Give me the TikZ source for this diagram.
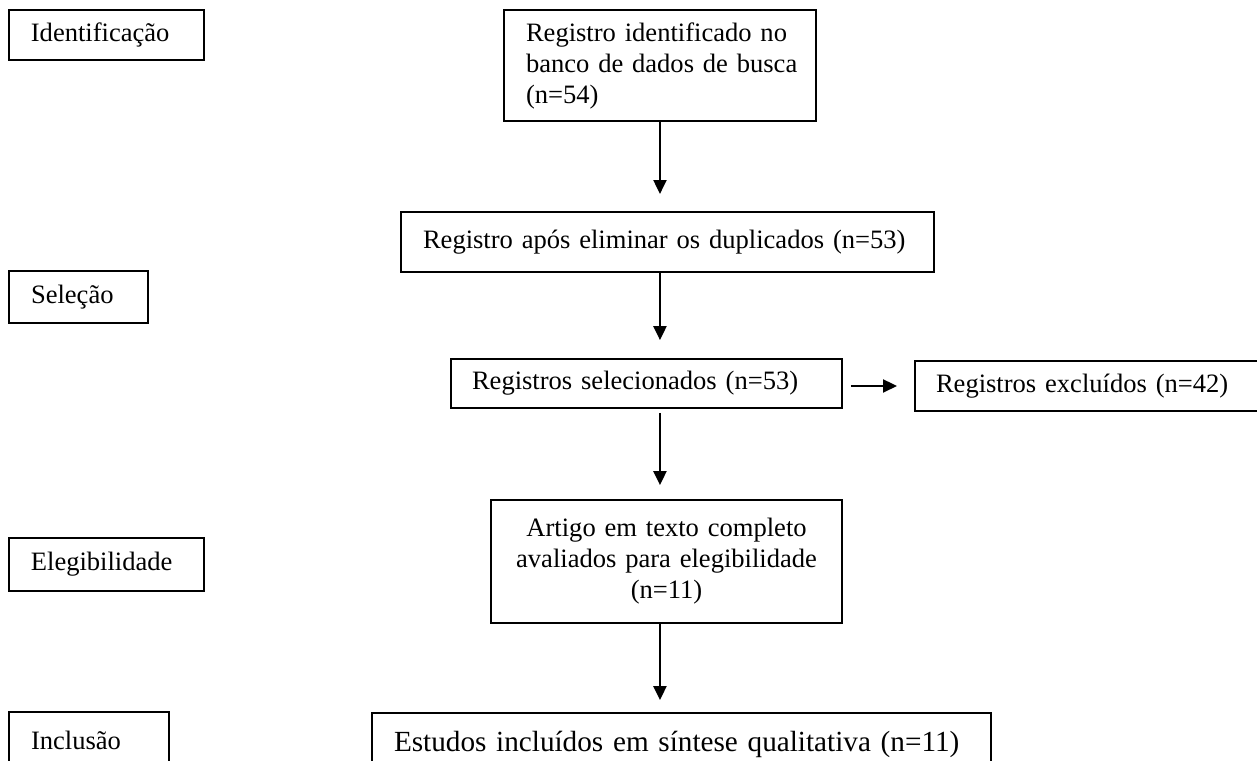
\documentclass[tikz,border=0pt]{standalone}
\usepackage{fontspec}
\setmainfont{Liberation Serif}
\usetikzlibrary{arrows.meta}
\tikzset{
	caixa/.style={draw, line width=0.9pt, anchor=north west, inner xsep=9.9pt, align=left, font=\fontsize{12pt}{14pt}\selectfont},
	etapa/.style={caixa},
	seta/.style={-{Triangle[length=6.3pt,width=5.9pt]}, line width=0.9pt}
}

\begin{document}
\begin{tikzpicture}[x=0.452pt, y=-0.452pt]
			%%%%% START %%%%%
			\useasboundingbox (0, 0) rectangle (1257, 761);
			\clip (0, 0) rectangle (1257, 761);
			
			% etapas
			\node[etapa, minimum width=88.1pt, minimum height=22.6pt, text width=68.3pt] (ident) at (8, 9) {Identificação};
			\node[etapa, minimum width=62.8pt, minimum height=23.5pt, text width=42.9pt] (selecao) at (8, 270) {Seleção};
			\node[etapa, minimum width=88.1pt, minimum height=24pt, text width=68.3pt] (elegib) at (8, 537) {Elegibilidade};
			\node[etapa, minimum width=72.3pt, minimum height=25.3pt, text width=52.4pt] (inclusao) at (8, 711) {Inclusão};
			
			% fluxo
			\node[caixa, minimum width=141pt, minimum height=50.2pt, text width=121.1pt] (registro) at (503, 9) {\mbox{Registro identificado no}\\\mbox{banco de dados de busca}\\(n=54)};
			\node[caixa, minimum width=240.9pt, minimum height=27.1pt, text width=221pt] (duplic) at (400, 211) {Registro após eliminar os duplicados (n=53)};
			\node[caixa, inner xsep=9.5pt, minimum width=176.7pt, minimum height=22.1pt, text width=157.7pt] (selec) at (450, 358) {Registros selecionados (n=53)};
			\node[caixa, inner xsep=9.5pt, minimum width=180.8pt, minimum height=22.6pt, text width=161.8pt] (exclu) at (914, 360) {Registros excluídos (n=42)};
			\node[caixa, align=center, minimum width=158.7pt, minimum height=55.6pt, text width=138.8pt] (artigo) at (490, 499) {Artigo em texto completo\\\mbox{avaliados para elegibilidade}\\(n=11)};
			\node[caixa, font=\fontsize{13.2pt}{15pt}\selectfont, minimum width=279.8pt, minimum height=28pt, text width=259.9pt] (estudos) at (371, 712) {Estudos incluídos em síntese qualitativa (n=11)};
			
			\draw[seta, shorten >=7.7pt] (registro.south) -- (registro.south |- duplic.north);
			\draw[seta, shorten >=8.1pt] (duplic.south -| registro.south) -- (selec.north -| registro.south);
			\draw[seta, shorten <=1.8pt, shorten >=6.3pt] (selec.south -| registro.south) -- (artigo.north -| registro.south);
			\draw[seta, shorten >=5.4pt] (artigo.south -| registro.south) -- (estudos.north -| registro.south);
			\draw[seta, shorten <=3.6pt, shorten >=7.7pt] (selec.east |- exclu.west) -- (exclu.west);
			
			%%%%% END %%%%%
\end{tikzpicture}
\end{document}
